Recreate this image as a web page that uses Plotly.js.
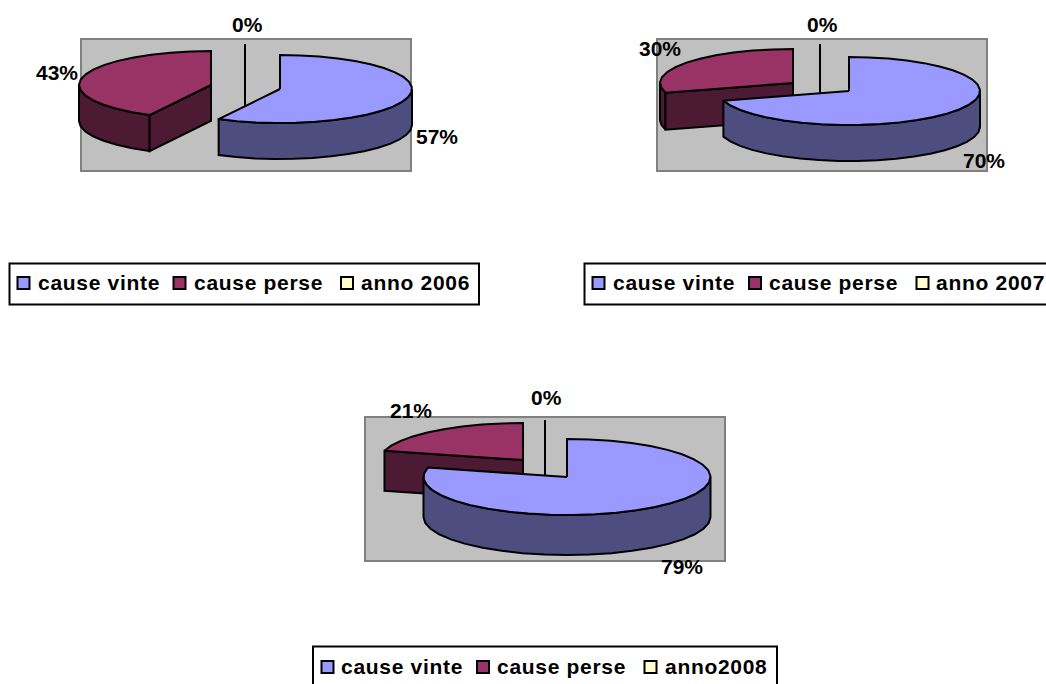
<!DOCTYPE html>
<html><head><meta charset="utf-8">
<script src="https://cdn.plot.ly/plotly-3.0.1.min.js"></script>
<style>
html,body{margin:0;padding:0;background:#fff;overflow:hidden}
#chart{width:1046px;height:684px}
.textpoint text{letter-spacing:0.7px}
</style></head><body><div id="chart"></div>
<script>
// ---- data ----
const categories = ['cause vinte', 'cause perse'];
const series2006 = [57, 43, 0];
const series2007 = [70, 30, 0];
const series2008 = [79, 21, 0];
const seriesNames = ['anno 2006', 'anno 2007', 'anno2008'];
const percentLabels2006 = ['57%', '43%', '0%'];
const percentLabels2007 = ['70%', '30%', '0%'];
const percentLabels2008 = ['79%', '21%', '0%'];

// ---- styles ----
const topColors = ['#9999ff', '#993366', '#ffffcc'];
const wallColors = ['#4d4d80', '#4d1a33', '#808066'];
const FONT = 'Liberation Sans, Arial, sans-serif';
const ARC_STEP = 9; // outline is faceted in the reference

// ---- layout of the three panels (page pixels) ----
const panels = [
  { values: series2006, labels: percentLabels2006, name: seriesNames[0], skew: 2.5,
    plot: [81, 39, 411, 171],
    centers: [[280, 89, 132, 34, 36], [211, 85, 132, 34, 36], [245, 78, 132, 34, 36]],
    labelPos: [[437, 136], [57, 72], [247, 24]],
    box: [9.5, 263.5, 479, 304.5],
    keys: [[23.5, 38], [179.5, 194], [347, 361]], keyY: 283 },
  { values: series2007, labels: percentLabels2007, name: seriesNames[1], skew: 1.5,
    plot: [657, 39, 987, 171],
    centers: [[849, 91, 131, 34, 36], [793, 83, 133, 34, 37], [820, 78, 132, 34, 36]],
    labelPos: [[984, 160], [660, 48], [822, 24]],
    box: [584.5, 263.5, 1056, 304.5],
    keys: [[598.5, 613], [755, 769], [922.5, 936]], keyY: 283 },
  { values: series2008, labels: percentLabels2008, name: seriesNames[2], skew: 0,
    plot: [365, 417, 725, 561],
    centers: [[567, 477, 143.5, 38, 40], [523, 460, 143, 37, 40], [545, 458, 143, 38, 40]],
    labelPos: [[682, 566], [411, 410], [546, 397]],
    box: [313, 646.5, 777, 700],
    keys: [[327.5, 341], [483, 497], [650.5, 665]], keyY: 667 }
];

// ---- geometry helpers ----
const rad = d => d * Math.PI / 180;
function rim(c, deg, dy) {
  return [c[0] + c[2] * Math.sin(rad(deg)), c[1] - c[3] * Math.cos(rad(deg)) + (dy || 0)];
}
function arc(c, a, b, dy) {
  const n = Math.max(2, Math.ceil(Math.abs(b - a) / ARC_STEP));
  const pts = [];
  for (let i = 0; i <= n; i++) pts.push(rim(c, a + (b - a) * i / n, dy));
  return pts;
}
function poly(pts, fill, name) {
  const closed = pts.concat([pts[0]]);
  return { type: 'scatter', mode: 'lines', x: closed.map(p => p[0]), y: closed.map(p => p[1]),
    fill: 'toself', fillcolor: fill, line: { color: '#000', width: 2, simplify: false },
    hoverinfo: 'skip', showlegend: false, name: name };
}
function wedgeTraces(c, start, end, idx) {
  const out = [], d = c[4], apex = [c[0], c[1]], apexLow = [c[0], c[1] + d];
  const a = Math.max(start, 90), b = Math.min(end, 270);
  if (b > a) {
    out.push(poly(arc(c, a, b, 0).concat(arc(c, b, a, d)), wallColors[idx]));
  }
  if (start > 180 && start < 360) {
    const p = rim(c, start);
    out.push(poly([apex, p, [p[0], p[1] + d], apexLow], wallColors[idx]));
  }
  if (end > 0 && end < 180) {
    const p = rim(c, end);
    out.push(poly([apex, p, [p[0], p[1] + d], apexLow], wallColors[idx]));
  }
  out.push(poly([apex].concat(arc(c, start, end, 0)), topColors[idx]));
  return out;
}

// ---- build ----
const traces = [], shapes = [], annotations = [];
panels.forEach(pn => {
  shapes.push({ type: 'rect', xref: 'x', yref: 'y', layer: 'below',
    x0: pn.plot[0], y0: pn.plot[1], x1: pn.plot[2], y1: pn.plot[3],
    fillcolor: '#c0c0c0', line: { color: '#808080', width: 2 } });
  shapes.push({ type: 'rect', xref: 'x', yref: 'y', layer: 'below',
    x0: pn.box[0], y0: pn.box[1], x1: pn.box[2], y1: pn.box[3],
    fillcolor: '#fff', line: { color: '#000', width: 2 } });

  const total = pn.values.reduce((s, v) => s + v, 0);
  const spans = [];
  let acc = 0;
  pn.values.forEach(v => {
    const s = acc; acc += v / total * 360;
    const view = x => (x > 0 && x < 360) ? x + pn.skew : x; // projection of the tilted pie
    spans.push([view(s), view(acc)]);
  });

  // zero slices stand furthest back and show as a plain edge
  pn.values.forEach((v, i) => {
    if (v === 0) {
      const c = pn.centers[i], t = rim(c, spans[i][0]);
      traces.push({ type: 'scatter', mode: 'lines', x: [t[0], c[0], c[0]],
        y: [t[1], c[1], c[1] + c[4]], line: { color: '#000', width: 2 },
        hoverinfo: 'skip', showlegend: false });
    }
  });
  // then back slices before front ones
  for (let i = pn.values.length - 1; i >= 0; i--) {
    if (pn.values[i] > 0) traces.push(...wedgeTraces(pn.centers[i], spans[i][0], spans[i][1], i));
  }

  pn.labels.forEach((t, i) => annotations.push({ xref: 'x', yref: 'y', x: pn.labelPos[i][0], y: pn.labelPos[i][1],
    text: t, showarrow: false, xanchor: 'center', yanchor: 'middle',
    font: { family: FONT, size: 21, color: '#000', weight: 700 } }));

  const names = categories.concat([pn.name]);
  traces.push({ type: 'scatter', mode: 'markers', x: pn.keys.map(k => k[0]), y: names.map(() => pn.keyY),
    marker: { symbol: 'square', size: 12, color: topColors, line: { color: '#000', width: 2 } },
    hoverinfo: 'skip', showlegend: false });
  traces.push({ type: 'scatter', mode: 'text', x: pn.keys.map(k => k[1]), y: names.map(() => pn.keyY + 2),
    text: names, textposition: 'middle right', marker: { size: 1 },
    textfont: { family: FONT, size: 21, color: '#000', weight: 700 },
    hoverinfo: 'skip', showlegend: false, cliponaxis: true });
});

const layout = {
  width: 1046, height: 684, margin: { l: 0, r: 0, t: 0, b: 0, pad: 0 },
  paper_bgcolor: '#fff', plot_bgcolor: '#fff', showlegend: false,
  xaxis: { range: [0, 1046], visible: false, fixedrange: true },
  yaxis: { range: [684, 0], visible: false, fixedrange: true },
  shapes: shapes, annotations: annotations
};
Plotly.newPlot('chart', traces, layout, { displayModeBar: false, staticPlot: true });
</script></body></html>
